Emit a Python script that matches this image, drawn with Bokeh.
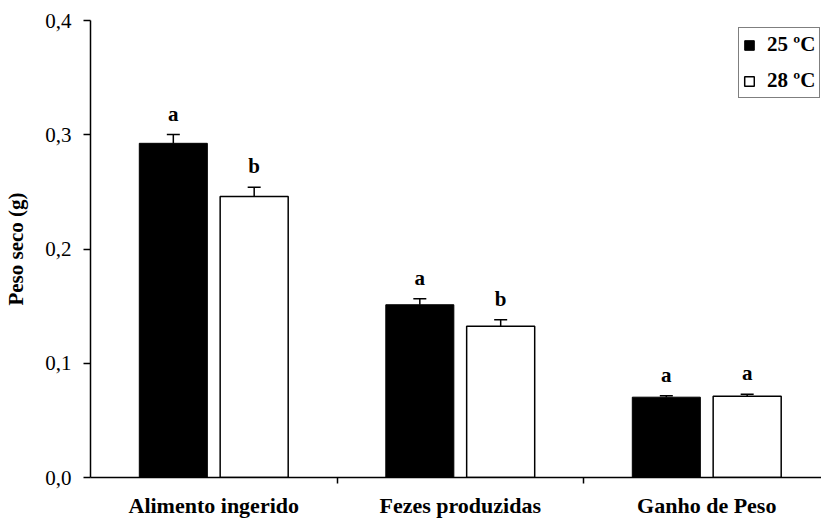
from bokeh.plotting import figure
from bokeh.models import Range1d, FixedTicker, Whisker, TeeHead, ColumnDataSource, Legend, LegendItem
from bokeh.core.properties import value
from bokeh.embed import file_html
from bokeh.resources import INLINE

categories = ["Alimento ingerido", "Fezes produzidas", "Ganho de Peso"]
val25 = [0.2925, 0.1512, 0.0703]
err25 = [0.0077, 0.0052, 0.0013]
val28 = [0.2460, 0.1324, 0.0712]
err28 = [0.0080, 0.0056, 0.0017]
let25 = ["a", "a", "a"]
let28 = ["b", "b", "a"]
yticks = [0.0, 0.1, 0.2, 0.3, 0.4]
ytick_labels = ["0,0", "0,1", "0,2", "0,3", "0,4"]
series_names = ["25 ºC", "28 ºC"]

FONT = "Liberation Serif"
OFF = 0.164
BW = 0.276

centers = [i + 0.5 for i in range(len(categories))]

p = figure(width=821, height=523, output_backend="svg", toolbar_location=None,
           x_range=Range1d(0, 731 / 246.5), y_range=Range1d(0, 0.4),
           min_border_left=90, min_border_right=0, min_border_top=20, min_border_bottom=46)
p.outline_line_color = None
p.xgrid.visible = False
p.ygrid.visible = False
p.background_fill_color = "white"

s25 = ColumnDataSource(dict(x=[c - OFF for c in centers], top=val25,
                            up=[v + e for v, e in zip(val25, err25)], lab=let25))
s28 = ColumnDataSource(dict(x=[c + OFF for c in centers], top=val28,
                            up=[v + e for v, e in zip(val28, err28)], lab=let28))

r25 = p.vbar(x="x", top="top", width=BW, source=s25, fill_color="black", line_color="black", line_width=1)
r28 = p.vbar(x="x", top="top", width=BW, source=s28, fill_color="white", line_color="black", line_width=1.5)

for s in (s25, s28):
    w = Whisker(base="x", lower="top", upper="up", source=s, line_color="black", line_width=1.5,
                upper_head=TeeHead(size=13, line_color="black", line_width=1.5), lower_head=None)
    p.add_layout(w)
    p.text(x="x", y="up", text="lab", source=s, text_align="center", text_baseline="bottom",
           y_offset=-9, text_font=value(FONT), text_font_style="bold", text_font_size="21px",
           text_color="black")

# axes
xa = p.xaxis[0]
xa.ticker = FixedTicker(ticks=centers, minor_ticks=[1, 2])
xa.major_label_overrides = {c: n for c, n in zip(centers, categories)}
xa.major_tick_out = 0
xa.major_tick_in = 0
xa.minor_tick_out = 6
xa.minor_tick_in = 0
xa.minor_tick_line_color = "black"
xa.minor_tick_line_width = 1.5
xa.major_label_text_font = FONT
xa.major_label_text_font_style = "bold"
xa.major_label_text_font_size = "22px"
xa.major_label_text_color = "black"
xa.major_label_standoff = 9
xa.axis_line_color = "black"
xa.axis_line_width = 1.5

ya = p.yaxis[0]
ya.ticker = FixedTicker(ticks=yticks, minor_ticks=[])
ya.major_label_overrides = {t: l for t, l in zip(yticks, ytick_labels)}
ya.major_tick_out = 7
ya.major_tick_in = 0
ya.major_tick_line_color = "black"
ya.major_tick_line_width = 1.5
ya.major_label_text_font = FONT
ya.major_label_text_font_size = "21px"
ya.major_label_text_color = "black"
ya.major_label_standoff = 12
ya.axis_line_color = "black"
ya.axis_line_width = 1.5
ya.axis_label = "Peso seco (g)"
ya.axis_label_text_font = FONT
ya.axis_label_text_font_style = "bold"
ya.axis_label_text_font_size = "21px"
ya.axis_label_text_color = "black"
ya.axis_label_standoff = 14

legend = Legend(items=[LegendItem(label=series_names[0], renderers=[r25]),
                       LegendItem(label=series_names[1], renderers=[r28])],
                location=(648, 379), orientation="vertical",
                glyph_width=12, glyph_height=12, label_height=24, spacing=11, padding=4,
                margin=0, label_standoff=12,
                label_text_font=FONT, label_text_font_style="bold", label_text_font_size="21px",
                label_text_color="black",
                border_line_color="black", border_line_width=1, background_fill_alpha=1)
p.add_layout(legend)

open("out.html", "w").write(file_html(p, INLINE))
